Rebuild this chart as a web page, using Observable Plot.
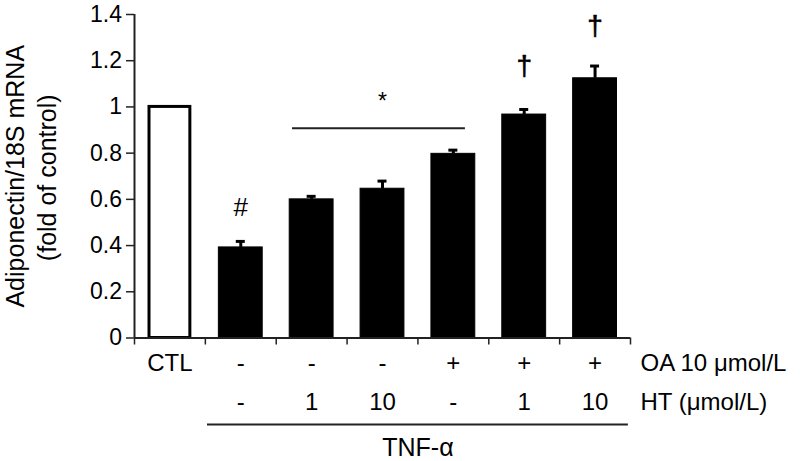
<!DOCTYPE html>
<html>
<head>
<meta charset="utf-8">
<script src="https://cdn.jsdelivr.net/npm/d3@7"></script>
<script src="https://cdn.jsdelivr.net/npm/@observablehq/plot@0.6"></script>
<style>
  html, body { margin: 0; padding: 0; background: #fff; }
  #chart svg { display: block; }
</style>
</head>
<body>
<div id="chart"></div>
<script>
// ---- data ----
const categories = ["CTL", "TNF", "TNF+HT1", "TNF+HT10", "TNF+OA", "TNF+OA+HT1", "TNF+OA+HT10"];
const means  = [1.0, 0.392, 0.600, 0.646, 0.797, 0.967, 1.124];
const errors = [0, 0.026, 0.013, 0.033, 0.016, 0.022, 0.053];
const oaRow  = ["CTL", "-", "-", "-", "+", "+", "+"];
const htRow  = ["", "-", "1", "10", "-", "1", "10"];
const rowLabels = ["OA 10 \u03bcmol/L", "HT (\u03bcmol/L)"];
const groupLabel = "TNF-\u03b1";
const yTicks = [0, 0.2, 0.4, 0.6, 0.8, 1, 1.2, 1.4];
const symbols = [
  {x: 1.5, y: 0.563, s: "#"},
  {x: 3.5, y: 1.025, s: "*"},
  {x: 5.5, y: 1.176, s: "\u2020"},
  {x: 6.5, y: 1.348, s: "\u2020"}
];
const sigLine = [{x1: 2.23, x2: 4.67, y: 0.908}];
const groupLine = [{x1: 1.03, x2: 6.97}];
const yLabel1 = "Adiponectin/18S mRNA";
const yLabel2 = "(fold of control)";

// ---- table ----
const rows = categories.map((c, i) => ({c, i, mean: means[i], err: errors[i], oa: oaRow[i], ht: htRow[i]}));
const n = categories.length;
const font = "'Liberation Sans', Arial, Helvetica, sans-serif";
const ls = (px) => `letter-spacing:${px}px`;

const chart = Plot.plot({
  width: 800,
  height: 461,
  marginTop: 14,
  marginBottom: 123.5,
  marginLeft: 134,
  marginRight: 170,
  style: {fontFamily: font, background: "#fff", color: "#000"},
  x: {domain: [0, n]},
  y: {domain: [0, 1.4]},
  marks: [
    // bars
    Plot.rectY(rows.filter(d => d.i > 0), {x1: d => d.i, x2: d => d.i + 1, y: "mean", fill: "#000", stroke: "#000", strokeWidth: 1, insetLeft: 13.5, insetRight: 13.5}),
    Plot.rectY(rows.filter(d => d.i === 0), {x1: d => d.i, x2: d => d.i + 1, y: "mean", fill: "#fff", stroke: "#000", strokeWidth: 3, insetLeft: 15, insetRight: 15}),
    // error bars (upper only)
    Plot.ruleX(rows.filter(d => d.err > 0), {x: d => d.i + 0.5, y1: "mean", y2: d => d.mean + d.err, stroke: "#000", strokeWidth: 3}),
    Plot.ruleY(rows.filter(d => d.err > 0), {y: d => d.mean + d.err, x1: d => d.i + 0.5, x2: d => d.i + 0.5, insetLeft: -4.5, insetRight: -4.5, stroke: "#000", strokeWidth: 3}),
    // axes
    Plot.ruleX([0], {stroke: "#222", strokeWidth: 2}),
    Plot.ruleY([0], {stroke: "#222", strokeWidth: 2}),
    Plot.axisY(yTicks, {tickSize: 8, tickFormat: () => "", label: null, color: "#222", strokeWidth: 1.5}),
    Plot.text(yTicks, {y: d => d, frameAnchor: "left", dx: -12.5, text: d => String(d), textAnchor: "end", lineAnchor: "middle", fontSize: 23, fill: "#000", style: ls(1.5)}),
    Plot.axisX(d3.range(n + 1), {tickSize: 7, tickFormat: () => "", label: null, color: "#222", strokeWidth: 1.5}),
    // significance marks
    Plot.ruleY(sigLine, {y: "y", x1: "x1", x2: "x2", stroke: "#222", strokeWidth: 2}),
    Plot.text(symbols.filter(d => d.s === "#"), {x: "x", y: "y", text: "s", fontSize: 26, lineAnchor: "middle", fill: "#000"}),
    Plot.text(symbols.filter(d => d.s === "*"), {x: "x", y: "y", text: "s", fontSize: 23, lineAnchor: "middle", fill: "#000"}),
    Plot.text(symbols.filter(d => d.s === "\u2020"), {x: "x", y: "y", text: "s", fontSize: 28, lineAnchor: "middle", fill: "#000", stroke: "#000", strokeWidth: 0.6}),
    // category rows
    Plot.text(rows, {x: d => d.i + 0.5, frameAnchor: "bottom", dy: 25.5, text: "oa", fontSize: 24, lineAnchor: "middle", fill: "#000", style: ls(1)}),
    Plot.text(rows, {x: d => d.i + 0.5, frameAnchor: "bottom", dy: 64, text: "ht", fontSize: 24, lineAnchor: "middle", fill: "#000", style: ls(1)}),
    Plot.text([rowLabels[0]], {x: n, frameAnchor: "bottom", dx: 10, dy: 25.5, text: d => d, textAnchor: "start", fontSize: 24, lineAnchor: "middle", fill: "#000", style: ls(1)}),
    Plot.text([rowLabels[1]], {x: n, frameAnchor: "bottom", dx: 10, dy: 64, text: d => d, textAnchor: "start", fontSize: 24, lineAnchor: "middle", fill: "#000", style: ls(1)}),
    Plot.ruleY(groupLine, {y: 0, x1: "x1", x2: "x2", dy: 86.5, stroke: "#222", strokeWidth: 2}),
    Plot.text([groupLabel], {x: (1 + n) / 2, frameAnchor: "bottom", dy: 110, text: d => d, fontSize: 25, lineAnchor: "middle", fill: "#000", style: ls(1)}),
    // y label (two rotated lines)
    Plot.text([yLabel1], {frameAnchor: "left", dx: -111, rotate: -90, text: d => d, textAnchor: "middle", fontSize: 25, lineAnchor: "bottom", fill: "#000", style: ls(0.3)}),
    Plot.text([yLabel2], {frameAnchor: "left", dx: -79, dy: 1.5, rotate: -90, text: d => d, textAnchor: "middle", fontSize: 25, lineAnchor: "bottom", fill: "#000", style: ls(0.3)})
  ]
});
document.getElementById("chart").appendChild(chart);
</script>
</body>
</html>
